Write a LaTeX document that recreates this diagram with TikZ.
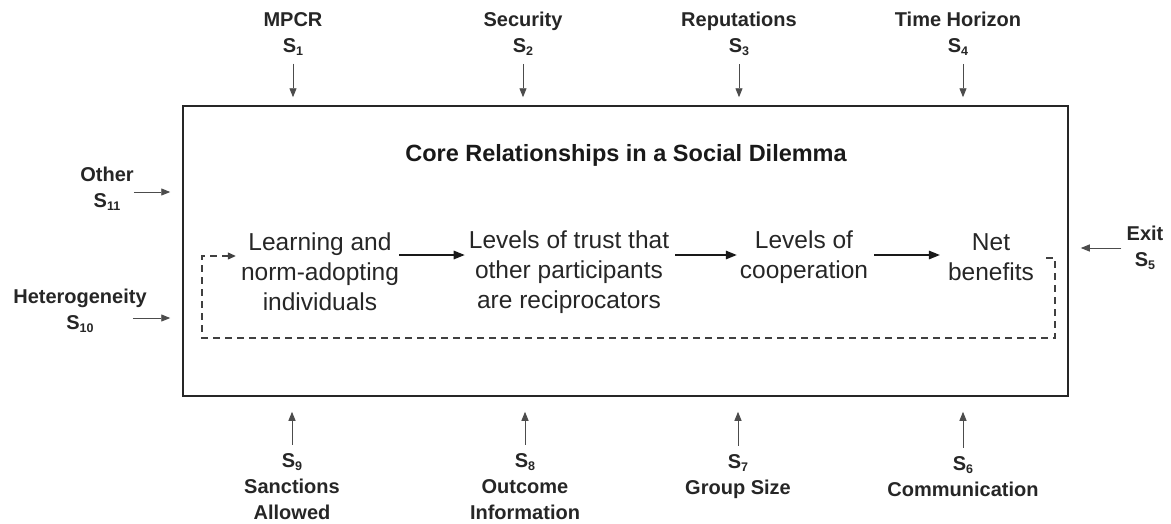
\documentclass[tikz,border=0pt]{standalone}
\usepackage{fontspec}
\setmainfont{Liberation Sans}
\usetikzlibrary{arrows.meta}
\newcommand\ssub[1]{\raisebox{-0.28ex}{\fontsize{12.5}{12.5}\selectfont #1}}
\begin{document}
\begin{tikzpicture}[x=1pt,y=-1pt]
\tikzset{
  lab/.style={font=\bfseries\fontsize{20}{26}\selectfont, align=center, inner sep=0pt, text=black!85},
  mainlab/.style={font=\fontsize{24.5}{30}\selectfont, align=center, inner sep=0pt, text=black!85},
  sarrow/.style={-{Triangle[length=9pt,width=7pt]}, line width=0.9pt, draw=black!70},
  marrow/.style={-{Triangle[length=11pt,width=8.5pt]}, line width=1.5pt, draw=black!90},
  fbloop/.style={dash pattern=on 7pt off 5pt, line width=1.2pt, draw=black!75, -{Triangle[length=8pt,width=7pt]}},
  frame/.style={draw=black!85, line width=1.5pt, inner sep=0pt, minimum width=885pt, minimum height=290pt},
}
\useasboundingbox (0,0) rectangle (1171,523);
\node[frame] (box) at (625.5,251) {};
\node[font=\bfseries\fontsize{23.5}{28}\selectfont, text=black!90] (title) at (626,155) {Core Relationships in a Social Dilemma};

% main chain
\node[mainlab] (learn) at (320,272) {Learning and\\norm-adopting\\individuals};
\node[mainlab] (trust) at (569,272) {Levels of trust that\\other participants\\are reciprocators};
\node[mainlab] (coop) at (804,257) {Levels of\\cooperation};
\node[mainlab] (net) at (991,257) {Net\\benefits};
\draw[marrow, shorten <=0pt, shorten >=4pt] ([yshift=17pt]learn.east) -- ([yshift=17pt]trust.west);
\draw[marrow, shorten <=6pt, shorten >=3pt] ([yshift=17pt]trust.east) -- ([yshift=2pt]coop.west);
\draw[marrow, shorten <=6pt, shorten >=8pt] ([yshift=2pt]coop.east) -- ([yshift=2pt]net.west);
\coordinate (loopR) at (1055,338);
\coordinate (loopL) at (202,338);
\draw[fbloop, shorten >=5pt] ([xshift=12pt,yshift=-1pt]net.east) -| (loopR) -- (loopL) |- ([yshift=16pt]learn.west);

% top
\node[lab] (s1) at (293,34) {MPCR\\S\ssub{1}};
\node[lab] (s2) at (523,34) {Security\\S\ssub{2}};
\node[lab] (s3) at (739,34) {Reputations\\S\ssub{3}};
\node[lab] (s4) at (958,34) {Time Horizon\\S\ssub{4}};
\foreach \n/\dx in {s1/0,s2/0,s3/0,s4/5}{
  \draw[sarrow, shorten <=8pt, shorten >=8pt] ([xshift=\dx pt]\n.south) -- ([xshift=\dx pt]\n.south |- box.north);
}
% bottom
\node[lab] (s9) at (292,487) {S\ssub{9}\\Sanctions\\Allowed};
\node[lab] (s8) at (525,487) {S\ssub{8}\\Outcome\\Information};
\node[lab] (s7) at (738,477) {S\ssub{7}\\Group Size};
\node[lab] (s6) at (963,477) {S\ssub{6}\\Communication};
\foreach \n in {s9,s8,s7,s6}{
  \draw[sarrow, shorten <=9pt, shorten >=15pt] (\n.north) -- (\n.north |- box.south);
}
% left
\node[lab] (s11) at (107,189) {Other\\S\ssub{11}};
\node[lab] (s10) at (80,311) {Heterogeneity\\S\ssub{10}};
\draw[sarrow, shorten <=0pt, shorten >=12pt] ([yshift=-3pt]s11.east) -- ([yshift=-3pt]s11.east -| box.west);
\draw[sarrow, shorten <=-14pt, shorten >=12pt] ([yshift=-7pt]s10.east) -- ([yshift=-7pt]s10.east -| box.west);
% right
\node[lab] (s5) at (1145,248) {Exit\\S\ssub{5}};
\draw[sarrow, shorten <=5pt, shorten >=12pt] (s5.west) -- (s5.west -| box.east);
\end{tikzpicture}
\end{document}
